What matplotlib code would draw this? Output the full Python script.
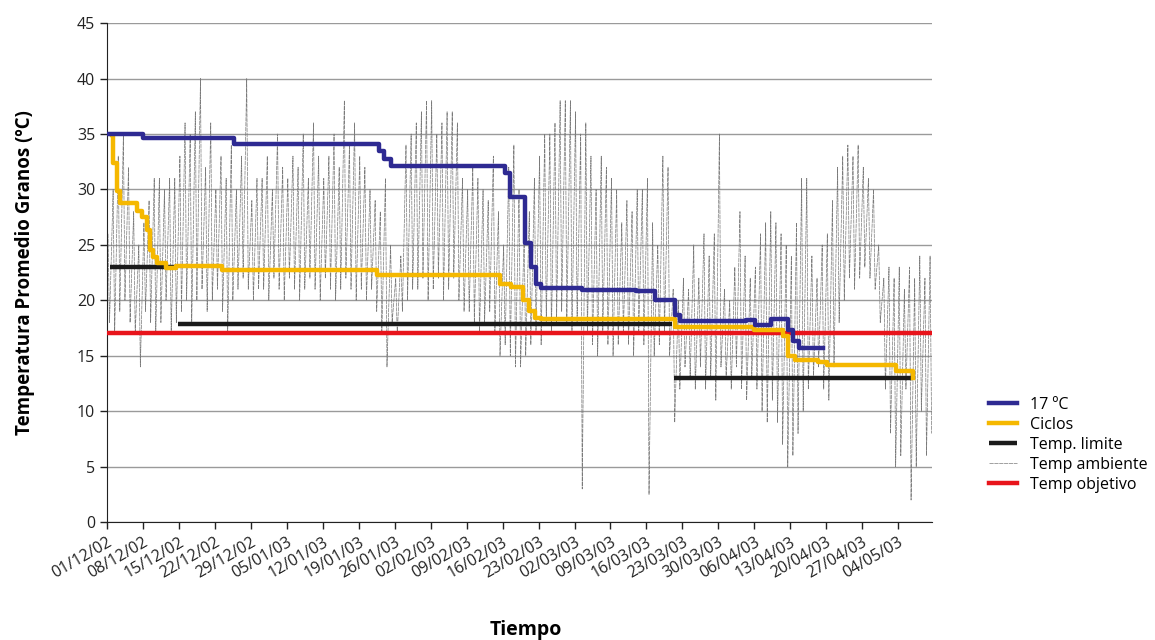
import numpy as np
import matplotlib.pyplot as plt

plt.rcParams['font.family'] = ['Open Sans', 'DejaVu Sans']

# x in days since 01/12/02
tick_labels = ["01/12/02", "08/12/02", "15/12/02", "22/12/02", "29/12/02", "05/01/03",
               "12/01/03", "19/01/03", "26/01/03", "02/02/03", "09/02/03", "16/02/03",
               "23/02/03", "02/03/03", "09/03/03", "16/03/03", "23/03/03", "30/03/03",
               "06/04/03", "13/04/03", "20/04/03", "27/04/03", "04/05/03"]

# 17 ºC (step line)
blue_days = [0, 7, 24.7, 53, 54, 55.3, 77.5, 78.5, 81.3, 82.5, 83.5, 84.5, 92.5, 103,
             106.6, 110.5, 111.5, 124.3, 126.2, 129.3, 132.5, 133.5, 134.6, 139.4]
blue_vals = [35.0, 34.6, 34.1, 33.5, 32.7, 32.1, 31.5, 29.3, 25.2, 23.0, 21.5, 21.1, 20.9, 20.8,
             20.0, 18.7, 18.1, 18.2, 17.8, 18.3, 17.3, 16.3, 15.7, 15.7]

# Ciclos (step line)
yel_days = [1, 1.2, 2, 2.5, 5.8, 6.8, 7.8, 8.4, 8.9, 9.8, 11.5, 13.4, 22.3, 52.5, 76.5, 78.7,
            81, 82.2, 83.3, 84.5, 110.5, 126, 131.5, 132.5, 134, 138.4, 140.2, 153.5, 156.9]
yel_vals = [34.9, 32.4, 29.9, 28.8, 28.1, 27.5, 26.3, 24.5, 23.9, 23.4, 22.9, 23.1, 22.7, 22.3,
            21.5, 21.2, 20.0, 19.0, 18.4, 18.3, 17.6, 17.3, 16.8, 15.0, 14.6, 14.4, 14.2, 13.6, 13.0]

# Temp. limite segments
lim_start = [0.6, 13.8, 110.3]
lim_end = [13.4, 109.9, 156.9]
lim_vals = [23.0, 17.9, 13.0]

# Temp objetivo
obj_val = 17.1

# Temp ambiente: daily max / min
amb_hi = [26, 30, 33, 35, 32, 28, 25, 27, 29, 31,
          31, 30, 31, 31, 33, 36, 35, 37, 40, 32,
          36, 30, 33, 31, 34, 30, 33, 40, 29, 31,
          31, 33, 30, 35, 32, 31, 33, 32, 35, 31,
          36, 33, 31, 33, 35, 32, 38, 34, 36, 33,
          32, 30, 29, 28, 31, 25, 22, 24, 34, 35,
          36, 37, 38, 38, 35, 36, 37, 37, 36, 31,
          30, 32, 31, 30, 29, 33, 28, 25, 32, 34,
          30, 26, 28, 31, 33, 35, 35, 36, 38, 38,
          38, 37, 35, 36, 33, 30, 33, 32, 31, 30,
          27, 29, 28, 30, 30, 31, 27, 25, 33, 32,
          21, 20, 22, 21, 25, 22, 26, 24, 26, 35,
          21, 20, 23, 28, 24, 22, 23, 26, 27, 28,
          27, 26, 25, 24, 27, 31, 31, 24, 22, 25,
          26, 29, 32, 33, 34, 33, 34, 32, 31, 30,
          25, 22, 23, 22, 23, 21, 23, 22, 24, 22, 24]
amb_lo = [18, 17, 19, 20, 18, 17, 14, 19, 18, 17,
          18, 20, 17, 18, 19, 20, 18, 20, 21, 19,
          20, 21, 19, 17, 20, 21, 22, 21, 20, 21,
          21, 20, 22, 21, 20, 22, 21, 20, 21, 22,
          21, 20, 22, 21, 20, 21, 22, 21, 20, 21,
          20, 21, 19, 17, 14, 18, 17, 19, 20, 21,
          21, 22, 20, 21, 22, 20, 21, 22, 20, 19,
          19, 18, 17, 18, 19, 17, 15, 16, 15, 14,
          14, 15, 16, 17, 16, 18, 17, 18, 19, 18,
          17, 18, 3, 17, 16, 15, 17, 16, 15, 16,
          17, 16, 15, 17, 16, 2.5, 15, 16, 17, 15,
          9, 12, 14, 13, 12, 14, 12, 13, 11, 14,
          13, 12, 14, 12, 11, 13, 12, 10, 9, 11,
          9, 7, 5, 6, 8, 10, 12, 13, 14, 12,
          11, 14, 18, 20, 22, 21, 22, 23, 22, 21,
          18, 12, 8, 5, 6, 12, 2, 5, 10, 6, 8]

fig = plt.figure(figsize=(11.55, 6.4), dpi=100)
ax = fig.add_axes([0.0926, 0.184, 0.714, 0.780])

days = np.arange(len(amb_hi))
amb_x = np.column_stack([days + 0.2, days + 0.5]).ravel()
amb_y = np.column_stack([amb_hi, amb_lo]).ravel()
ax.plot(amb_x, amb_y, color='#7a7a7a', lw=0.5, ls=(0, (6, 1)), label='Temp ambiente', zorder=2)

for i in range(len(lim_vals)):
    ax.plot([lim_start[i], lim_end[i]], [lim_vals[i], lim_vals[i]], color='#1a1a1a', lw=3.2,
            solid_capstyle='butt', zorder=3, label='Temp. limite' if i == 0 else None)

ax.axhline(obj_val, color='#e8141b', lw=3.2, zorder=4, label='Temp objetivo')
ax.plot(yel_days, yel_vals, drawstyle='steps-post', color='#f5b800', lw=3.2, zorder=5, label='Ciclos')
ax.plot(blue_days, blue_vals, drawstyle='steps-post', color='#2e2a92', lw=3.2, zorder=6, label='17 ºC')

ax.set_xlim(0, 160.5)
ax.set_ylim(0, 45)
ax.set_yticks(np.arange(0, 46, 5))
ax.set_xticks(np.arange(len(tick_labels)) * 7)
ax.set_xticklabels(tick_labels, rotation=30, ha='right', rotation_mode='anchor', fontsize=11.5)
ax.tick_params(axis='y', labelsize=11.5, length=5, width=1, colors='#222222')
ax.tick_params(axis='x', length=5, width=1, colors='#222222')
ax.grid(axis='y', color='#9a9a9a', lw=1)
ax.set_axisbelow(True)
for s in ['top', 'right']:
    ax.spines[s].set_visible(False)
ax.spines['left'].set_color('#222222')
ax.spines['bottom'].set_color('#222222')

ax.set_ylabel('Temperatura Promedio Granos (ºC)', fontsize=13.5, fontweight='bold', labelpad=30)
fig.text(0.455, 0.008, 'Tiempo', fontsize=14, fontweight='bold', ha='center')

handles, labels = ax.get_legend_handles_labels()
order = ['17 ºC', 'Ciclos', 'Temp. limite', 'Temp ambiente', 'Temp objetivo']
hmap = dict(zip(labels, handles))
leg = fig.legend([hmap[k] for k in order], order, loc='center left', bbox_to_anchor=(0.856, 0.305),
                 frameon=False, fontsize=11.5, handlelength=1.8, labelspacing=0.25, handletextpad=0.8,
                 borderaxespad=0, borderpad=0)

fig.savefig('out.png', dpi=100)
